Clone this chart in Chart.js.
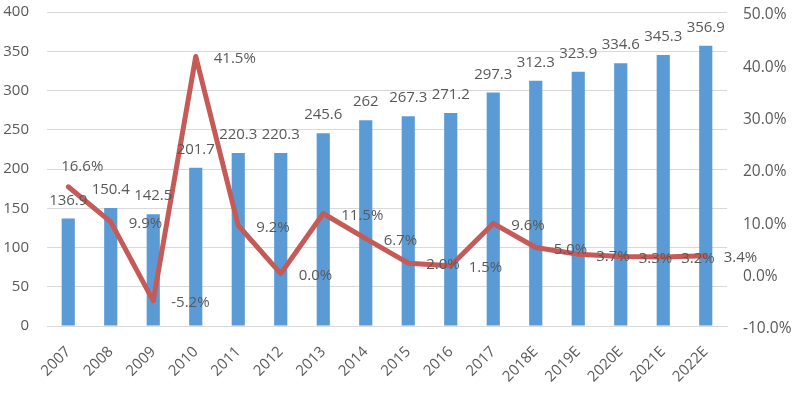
<!DOCTYPE html>
<html lang="zh">
<head>
    <meta charset="UTF-8">
    <title>Market size and growth</title>
    <script src="https://cdn.jsdelivr.net/npm/chart.js"></script>
    <style>
        html, body { margin: 0; padding: 0; background: #ffffff; }
        .chart-container { position: relative; width: 800px; height: 397px; }
    </style>
</head>
<body>
    <div class="chart-container">
        <canvas id="main-chart"></canvas>
    </div>

    <script>
        // Chart data
        const years = ['2007', '2008', '2009', '2010', '2011', '2012', '2013', '2014',
                       '2015', '2016', '2017', '2018E', '2019E', '2020E', '2021E', '2022E'];
        const sizeValues = [136.9, 150.4, 142.5, 201.7, 220.3, 220.3, 245.6, 262,
                            267.3, 271.2, 297.3, 312.3, 323.9, 334.6, 345.3, 356.9];
        const growthValues = [16.6, 9.9, -5.2, 41.5, 9.2, 0.0, 11.5, 6.7,
                              2.0, 1.5, 9.6, 5.0, 3.7, 3.3, 3.2, 3.4];
        const leftTicks = [0, 50, 100, 150, 200, 250, 300, 350, 400];
        const rightTicks = [-10, 0, 10, 20, 30, 40, 50];

        const textColor = '#595959';
        const fontFamily = '"Open Sans", sans-serif';

        // fixed axis sizes so the plot area sits where the reference has it
        function fixSize(prop, size) {
            return function (scale) {
                scale[prop] = size;
                scale.paddingTop = 0;
                scale.paddingBottom = 0;
                scale.paddingLeft = 0;
                scale.paddingRight = 0;
            };
        }

        // Draws the value labels (bars above, line to the right)
        const valueLabels = {
            id: 'valueLabels',
            afterDatasetsDraw(chart) {
                const ctx = chart.ctx;
                ctx.save();
                ctx.font = '15px ' + fontFamily;
                ctx.fillStyle = textColor;

                const bars = chart.getDatasetMeta(0).data;
                ctx.textAlign = 'center';
                ctx.textBaseline = 'alphabetic';
                bars.forEach((bar, i) => {
                    ctx.fillText(String(sizeValues[i]), bar.x, bar.y - 14);
                });

                const points = chart.getDatasetMeta(1).data;
                points.forEach((pt, i) => {
                    const txt = growthValues[i].toFixed(1) + '%';
                    if (i === 0) {
                        ctx.textAlign = 'center';
                        ctx.textBaseline = 'middle';
                        ctx.fillText(txt, pt.x + 14, pt.y - 20);
                    } else {
                        ctx.textAlign = 'left';
                        ctx.textBaseline = 'middle';
                        ctx.fillText(txt, pt.x + 18, pt.y + 2);
                    }
                });
                ctx.restore();
            }
        };

        const ctx = document.getElementById('main-chart').getContext('2d');
        new Chart(ctx, {
            data: {
                labels: years,
                datasets: [{
                    type: 'bar',
                    data: sizeValues,
                    backgroundColor: '#5b9bd5',
                    barPercentage: 0.31,
                    categoryPercentage: 1.0,
                    yAxisID: 'y',
                    order: 2
                }, {
                    type: 'line',
                    data: growthValues,
                    borderColor: '#c55a57',
                    borderWidth: 5,
                    borderJoinStyle: 'round',
                    borderCapStyle: 'round',
                    pointRadius: 0,
                    tension: 0,
                    yAxisID: 'y1',
                    order: 1
                }]
            },
            options: {
                responsive: true,
                maintainAspectRatio: false,
                animation: false,
                layout: { autoPadding: false, padding: { top: 12, right: 0, bottom: 0, left: 0 } },
                plugins: {
                    legend: { display: false },
                    tooltip: { enabled: false }
                },
                scales: {
                    x: {
                        grid: { display: false, drawTicks: false },
                        border: { display: true, color: '#d9d9d9' },
                        ticks: {
                            color: textColor,
                            font: { family: fontFamily, size: 15 },
                            minRotation: 45,
                            maxRotation: 45,
                            padding: 17
                        },
                        afterFit: fixSize('height', 71)
                    },
                    y: {
                        position: 'left',
                        min: 0,
                        max: 400,
                        afterBuildTicks(scale) { scale.ticks = leftTicks.map(v => ({ value: v })); },
                        grid: { color: '#d9d9d9', drawTicks: false },
                        border: { display: false },
                        ticks: {
                            color: textColor,
                            font: { family: fontFamily, size: 15 },
                            padding: 18
                        },
                        afterFit: fixSize('width', 47)
                    },
                    y1: {
                        position: 'right',
                        min: -10,
                        max: 50,
                        afterBuildTicks(scale) { scale.ticks = rightTicks.map(v => ({ value: v })); },
                        grid: { display: false, drawTicks: false },
                        border: { display: false },
                        ticks: {
                            color: textColor,
                            font: { family: fontFamily, size: 15.5 },
                            padding: 16,
                            labelOffset: 3,
                            callback: v => v.toFixed(1) + '%'
                        },
                        afterFit: fixSize('width', 73)
                    }
                }
            },
            plugins: [valueLabels]
        });
    </script>
</body>
</html>
